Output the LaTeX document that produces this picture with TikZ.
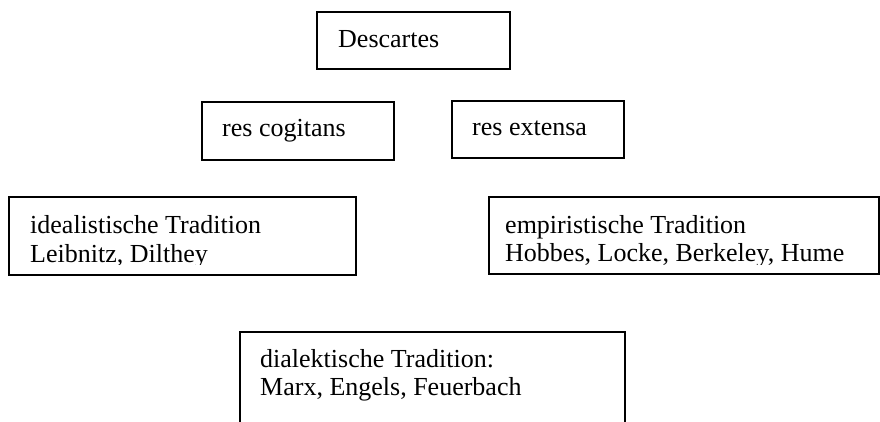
\documentclass[tikz,border=0pt]{standalone}
\usepackage{fontspec}
\setmainfont{Liberation Serif}
\begin{document}
\begin{tikzpicture}[x=1pt,y=-1pt,
  box/.style={draw=black,line width=2pt,fill=none},
  txt/.style={anchor=base west,inner sep=0pt,font=\fontsize{26}{29}\selectfont}]
\useasboundingbox (0,0) rectangle (880,421);
% boxes
\draw[box] (317,12) rectangle (510,69);
\coordinate (D) at (317,12);
\draw[box] (202,102) rectangle (394,160);
\draw[box] (452,101) rectangle (624,158);
\draw[box] (9,197) rectangle (356,275);
\draw[box] (489,197) rectangle (879,274);
\draw[box] (240,332) -- (625,332);
\draw[box] (240,331) -- (240,425);
\draw[box] (625,331) -- (625,425);
% texts
\node[txt] (tD) at (338,47) {Descartes};
\node[txt] (tRC) at (222,136) {res cogitans};
\node[txt] (tRE) at (472,135) {res extensa};
\begin{scope}
\clip (10,198) rectangle (355,264.5);
\node[txt] (tI1) at (30,233) {idealistische Tradition};
\node[txt] (tI2) at (30,262) {Leibnitz, Dilthey};
\end{scope}
\begin{scope}
\clip (490,198) rectangle (878,264);
\node[txt] (tE1) at (505,233) {empiristische Tradition};
\node[txt] (tE2) at (505,261.5) {Hobbes, Locke, Berkeley, Hume};
\end{scope}
\node[txt] (tK1) at (260,367) {dialektische Tradition:};
\node[txt] (tK2) at (260,395) {Marx, Engels, Feuerbach};
\end{tikzpicture}
\end{document}
